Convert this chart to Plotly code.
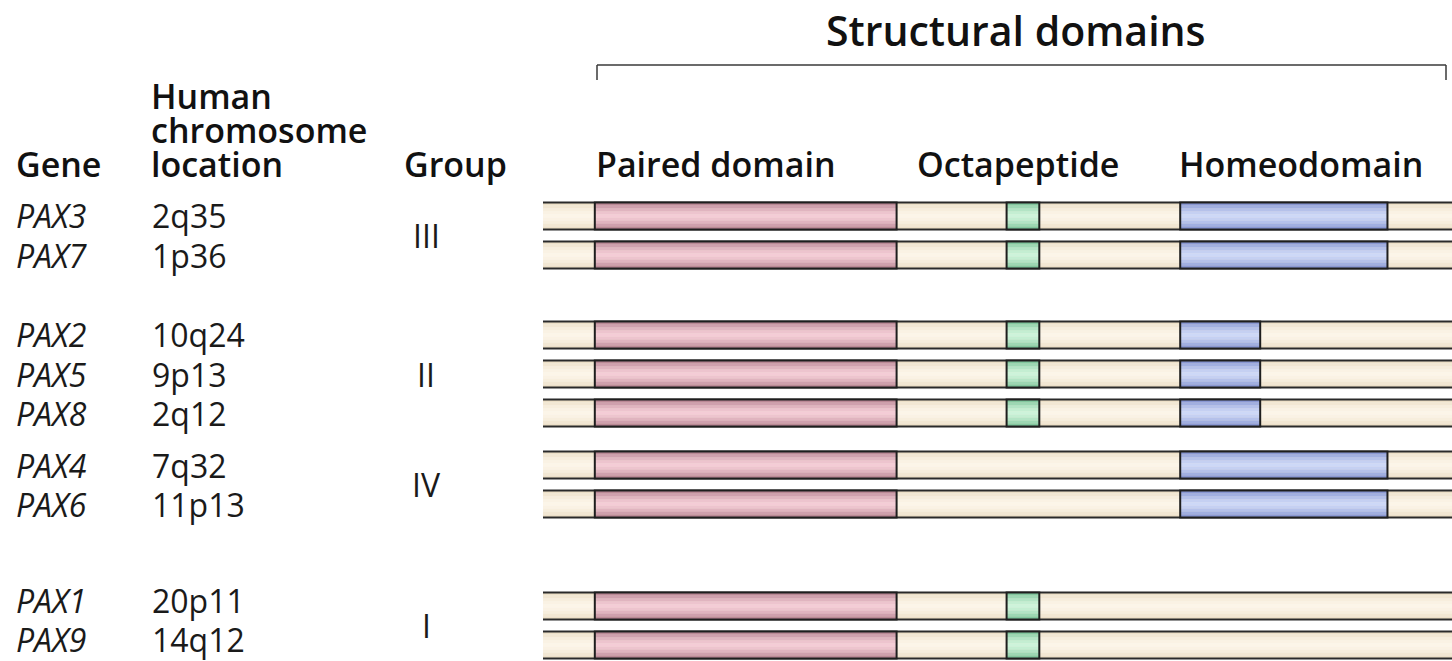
import plotly.graph_objects as go

# ---------------- data ----------------
genes = ["PAX3", "PAX7", "PAX2", "PAX5", "PAX8", "PAX4", "PAX6", "PAX1", "PAX9"]
locations = ["2q35", "1p36", "10q24", "9p13", "2q12", "7q32", "11p13", "20p11", "14q12"]
groups = ["III", "III", "II", "II", "II", "IV", "IV", "I", "I"]
protein_length = 100  # relative units
paired_domain = [(5.7, 38.9)] * 9
octapeptide = [(51.0, 54.6), (51.0, 54.6), (51.0, 54.6), (51.0, 54.6), (51.0, 54.6),
               None, None, (51.0, 54.6), (51.0, 54.6)]
homeodomain = [(70.1, 92.9), (70.1, 92.9), (70.1, 78.9), (70.1, 78.9), (70.1, 78.9),
               (70.1, 92.9), (70.1, 92.9), None, None]
domain_names = ["Paired domain", "Octapeptide", "Homeodomain"]
location_header = ["Human", "chromosome", "location"]

# ---------------- layout helpers ----------------
W, H = 1452, 661
first_row = 216
pitch = 39
group_extra = {"III": 0, "II": 41, "IV": 13, "I": 63}
bar_h = 27

row_y = []
y = first_row
prev = None
for g in groups:
    if prev is not None:
        y += pitch
        if g != prev:
            y += group_extra[g]
    row_y.append(y)
    prev = g


def hex2rgb(h):
    h = h.lstrip("#")
    return tuple(int(h[i:i + 2], 16) for i in (0, 2, 4))


def mix(c1, c2, t):
    a, b = hex2rgb(c1), hex2rgb(c2)
    return "rgb(%d,%d,%d)" % tuple(round(a[i] + (b[i] - a[i]) * t) for i in range(3))


def gradient_rect(shapes, x0, x1, yc, h, edge, center, n=9):
    step = h / n
    for k in range(n):
        d = abs((k + 0.5) / n - 0.5) * 2  # 0 center, 1 edge
        t = 1 - d ** 1.5
        shapes.append(dict(type="rect", xref="x", yref="y", x0=x0, x1=x1,
                           y0=yc - h / 2 + k * step, y1=yc - h / 2 + (k + 1) * step + 0.3,
                           fillcolor=mix(edge, center, t), line=dict(width=0), layer="above"))


styles = {
    "bg": ("#eadcc2", "#fcf5e8"),
    "Paired domain": ("#b07c8a", "#f4ccd6"),
    "Octapeptide": ("#74bf92", "#cdf3da"),
    "Homeodomain": ("#7d8ccc", "#cdd8f7"),
}

shapes = []
for i, yc in enumerate(row_y):
    gradient_rect(shapes, 0, protein_length, yc, bar_h, *styles["bg"])
    for yy in (yc - bar_h / 2, yc + bar_h / 2):
        shapes.append(dict(type="line", xref="x", yref="y", x0=0, x1=protein_length,
                           y0=yy, y1=yy, line=dict(color="#2a2a2a", width=2.2), layer="above"))
    for name, dom in zip(domain_names, (paired_domain[i], octapeptide[i], homeodomain[i])):
        if dom is None:
            continue
        gradient_rect(shapes, dom[0], dom[1], yc, bar_h, *styles[name])
        shapes.append(dict(type="rect", xref="x", yref="y", x0=dom[0], x1=dom[1],
                           y0=yc - bar_h / 2, y1=yc + bar_h / 2,
                           line=dict(color="#1e1e1e", width=2), fillcolor="rgba(0,0,0,0)",
                           layer="above"))

# bracket over structural domains
bx0, bx1, by0, by1 = 597 / W, 1446 / W, 1 - 65 / H, 1 - 80 / H
for sh in (dict(x0=bx0, x1=bx1, y0=by0, y1=by0),
           dict(x0=bx0, x1=bx0, y0=by0, y1=by1),
           dict(x0=bx1, x1=bx1, y0=by0, y1=by1)):
    shapes.append(dict(type="line", xref="paper", yref="paper",
                       line=dict(color="#3a3a3a", width=1.5), **sh))

FONT = "Open Sans"
head = dict(family=FONT, size=34, color="#111111", weight=600)
title_font = dict(family=FONT, size=41, color="#111111", weight=600)
body = dict(family=FONT, size=32, color="#1a1a1a")

ann = []


def txt(text, xpx, ypx, font, xanchor="left", yanchor="middle", **kw):
    ann.append(dict(text=text, x=xpx / W, y=1 - ypx / H, xref="paper", yref="paper",
                    xanchor=xanchor, yanchor=yanchor, showarrow=False, font=font, **kw))


txt("Structural domains", 1016, 30, title_font, xanchor="center")
txt("Gene", 14, 164, head)
for k, line in enumerate(location_header):
    txt(line, 149, 96 + 34 * k, head)
txt("Group", 402, 164, head)
txt(domain_names[0], 594, 164, head)
txt(domain_names[1], 915, 164, head)
txt(domain_names[2], 1177, 164, head)

# text rows: keep the last group's labels inside the picture
last_g = groups[-1]
lift = max(0, row_y[-1] - (H - 22))
text_y = [yc - lift if groups[i] == last_g else yc for i, yc in enumerate(row_y)]
for i, ty in enumerate(text_y):
    txt("<i>%s</i>" % genes[i], 14, ty, body)
    txt(locations[i], 150, ty, body)

seen = []
for g in groups:
    if g not in seen:
        seen.append(g)
for g in seen:
    ys = [row_y[i] for i in range(len(groups)) if groups[i] == g]
    txt(g, 426, (min(ys) + max(ys)) / 2, dict(family=FONT, size=32, color="#1a1a1a"),
        xanchor="center")

fig = go.Figure()
fig.add_trace(go.Scatter(x=[0, protein_length], y=[row_y[0], row_y[-1]], mode="markers",
                         marker=dict(opacity=0), hoverinfo="skip", showlegend=False))
fig.update_layout(
    width=W, height=H, margin=dict(l=0, r=0, t=0, b=0),
    paper_bgcolor="white", plot_bgcolor="white",
    xaxis=dict(range=[0, protein_length], domain=[543 / W, 1], visible=False, fixedrange=True),
    yaxis=dict(range=[H, 0], domain=[0, 1], visible=False, fixedrange=True),
    shapes=shapes, annotations=ann, showlegend=False,
)
fig.write_html("out.html", config={"displayModeBar": False},
               post_script="document.body.style.margin='0';document.body.style.overflow='hidden';")
